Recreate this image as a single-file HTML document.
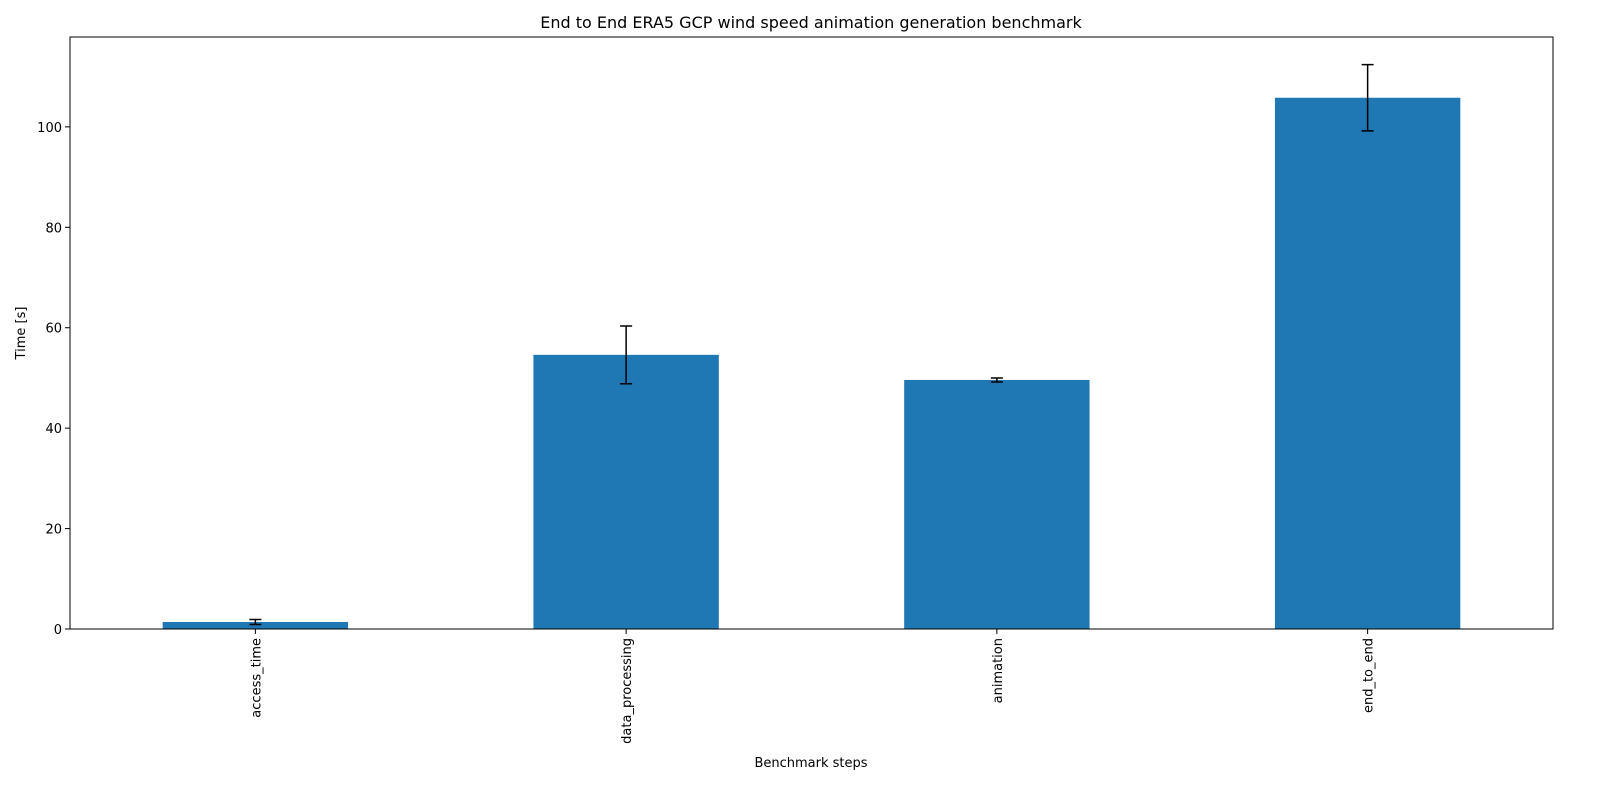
<!DOCTYPE html>
<html><head><meta charset="utf-8"><style>
html,body{margin:0;padding:0;background:#fff;overflow:hidden;width:1600px;height:800px;font-family:"Liberation Sans","DejaVu Sans",sans-serif;}
svg{display:block}
svg text{font-family:"DejaVu Sans","Liberation Sans",sans-serif;font-size:13px;fill:#000}
</style></head><body>
<svg id="chart" width="1600" height="800" xmlns="http://www.w3.org/2000/svg">
<rect width="1600" height="800" fill="#fff"/>
<text x="811" y="28" text-anchor="middle" style="font-size:16px">End to End ERA5 GCP wind speed animation generation benchmark</text>
<g id="plot"></g>
<text x="811" y="767" text-anchor="middle">Benchmark steps</text>
<text transform="translate(25,333) rotate(-90)" text-anchor="middle">Time [s]</text>
</svg>
<script>
const categories = ["access_time","data_processing","animation","end_to_end"];
const values = [1.4, 54.6, 49.6, 105.8];
const errors = [0.5, 5.75, 0.4, 6.6];
const yTicks = [0,20,40,60,80,100];
const L=70,R=1553,T=37,B=629,yMax=117.9;
const NS="http://www.w3.org/2000/svg";
const g=document.getElementById('plot');
const band=(R-L)/categories.length;
const xc=i=>L+band*(i+0.5);
const y=v=>B-(v/yMax)*(B-T);
function mk(t,a){const e=document.createElementNS(NS,t);for(const k in a)e.setAttribute(k,a[k]);g.appendChild(e);return e;}
categories.forEach((c,i)=>{
  const w=band*0.5;
  const r=mk('rect',{x:xc(i)-w/2,y:y(values[i]),width:w,height:B-y(values[i]),fill:'#1f77b4'});
  
  
  const e1=y(values[i]+errors[i]),e2=y(values[i]-errors[i]);
  const eb=mk('path',{d:`M${xc(i)},${e1}V${e2}M${xc(i)-6},${e1}H${xc(i)+6}M${xc(i)-6},${e2}H${xc(i)+6}`,stroke:'#000','stroke-width':1.5,fill:'none'});
  
  
  mk('line',{x1:xc(i),x2:xc(i),y1:B,y2:B+5,stroke:'#000'});
  const t=mk('text',{transform:`translate(${xc(i)+5},${B+9}) rotate(-90)`,'text-anchor':'end'});
  t.textContent=c;
  
  
});
yTicks.forEach(v=>{
  mk('line',{x1:L-5,x2:L,y1:y(v),y2:y(v),stroke:'#000'});
  const t=mk('text',{x:L-8,y:y(v)+5,'text-anchor':'end'});
  t.textContent=v;
  
  
});
const f=mk('rect',{x:L,y:T,width:R-L,height:B-T,fill:'none',stroke:'#000','stroke-width':1});


</script>
</body></html>
